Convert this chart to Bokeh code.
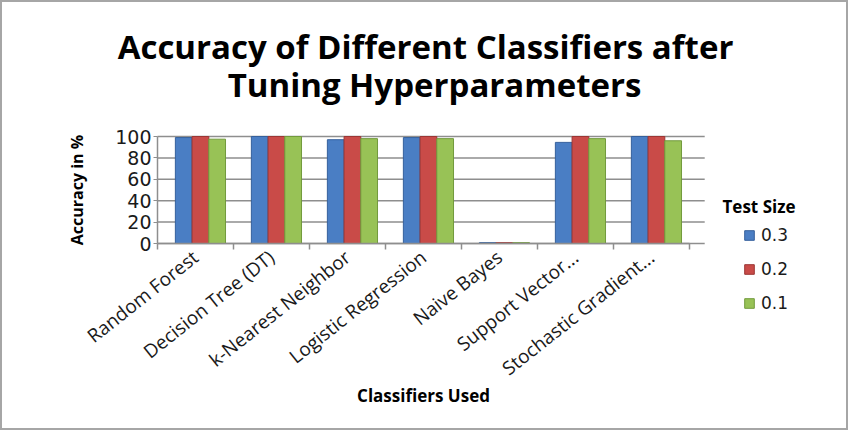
from bokeh.plotting import figure
from bokeh.layouts import column
from bokeh.models import ColumnDataSource, Range1d, FixedTicker, Legend, LegendItem, Label
from bokeh.transform import dodge
from bokeh.embed import file_html
from bokeh.resources import INLINE

# ---- data ----
title_lines = ["Accuracy of Different Classifiers after", "Tuning Hyperparameters"]
legend_title = "Test Size"
classifiers = ["Random Forest", "Decision Tree (DT)", "k-Nearest Neighbor",
               "Logistic Regression", "Naive Bayes", "Support Vector...",
               "Stochastic Gradient..."]
test_sizes = ["0.3", "0.2", "0.1"]
acc_03 = [99, 100, 97, 99, 0.8, 94.5, 100]
acc_02 = [100, 100, 100, 100, 0.8, 100, 100]
acc_01 = [97.5, 100, 98, 98, 0.8, 98, 96]
y_ticks = [0, 20, 40, 60, 80, 100]

colors = ["#4A7EC4", "#C94B48", "#98C256"]
edge_colors = ["#35609c", "#9c3634", "#729a3c"]
grid_color = "#8e8e8e"

# ---- geometry (pixels inside the bordered figure) ----
FIG_W, FIG_H = 844, 426
AX_X = 155          # pixel column of the value axis
AX_Y = 241          # pixel row of the category axis (from top)
PX_PER_CAT = 76.0
PX_PER_PCT = 1.07

n = len(classifiers)
positions = list(range(n))
cat_lo, cat_hi = -0.5, n - 0.5

x_range = Range1d(cat_lo - AX_X / PX_PER_CAT, cat_lo + (FIG_W - AX_X) / PX_PER_CAT)
y_range = Range1d(-(FIG_H - AX_Y) / PX_PER_PCT, AX_Y / PX_PER_PCT)

source = ColumnDataSource(dict(pos=positions, name=classifiers,
                               a03=acc_03, a02=acc_02, a01=acc_01))

p = figure(width=FIG_W, height=FIG_H, x_range=x_range, y_range=y_range,
           output_backend="svg", toolbar_location=None, title=None, min_border=0)
p.outline_line_color = None
p.background_fill_color = "white"
p.border_fill_color = "white"
p.xgrid.visible = False
p.ygrid.visible = False

# horizontal grid lines (back wall), drawn from the tick values
p.segment(x0=[cat_lo] * len(y_ticks), x1=[cat_hi + 0.2] * len(y_ticks),
          y0=y_ticks, y1=y_ticks, line_color=grid_color, line_width=1.5)

bar_w = 0.22
offsets = [-0.155, 0.065, 0.285]
renderers = []
for col, off, c, ec in zip(["a03", "a02", "a01"], offsets, colors, edge_colors):
    r = p.vbar(x=dodge("pos", off), top=col, bottom=0, width=bar_w,
               source=source, fill_color=c, line_color=ec, line_width=1)
    renderers.append(r)

# y axis
yax = p.yaxis[0]
yax.fixed_location = cat_lo
yax.bounds = (y_ticks[0], y_ticks[-1])
yax.ticker = FixedTicker(ticks=y_ticks)
yax.axis_line_color = grid_color
yax.axis_line_width = 1.5
yax.major_tick_line_color = grid_color
yax.major_tick_in = 0
yax.major_tick_out = 4
yax.minor_tick_line_color = None
yax.major_label_text_font = "DejaVu Sans"
yax.major_label_text_font_size = "19px"
yax.major_label_text_color = "#1a1a1a"
yax.major_label_standoff = 2
yax.axis_label = "Accuracy in %"
yax.axis_label_text_font = "Open Sans"
yax.axis_label_text_font_style = "bold"
yax.axis_label_text_font_size = "16px"
yax.axis_label_text_color = "#000000"
yax.axis_label_standoff = 24

# x axis
xax = p.xaxis[0]
xax.fixed_location = 0
xax.bounds = (cat_lo, cat_hi)
xax.ticker = FixedTicker(ticks=positions,
                         minor_ticks=[i - 0.5 for i in range(n + 1)])
xax.major_label_overrides = {i: name for i, name in zip(positions, classifiers)}
xax.major_label_orientation = 0.67
xax.major_tick_line_color = None
xax.minor_tick_line_color = grid_color
xax.minor_tick_in = 0
xax.minor_tick_out = 6
xax.minor_tick_line_width = 1.5
xax.axis_line_color = grid_color
xax.axis_line_width = 1.5
xax.major_label_text_font = "Open Sans"
xax.major_label_text_font_size = "19px"
xax.major_label_text_color = "#1a1a1a"
xax.major_label_standoff = 5
xax.axis_label = "Classifiers Used"
xax.axis_label_text_font = "Open Sans"
xax.axis_label_text_font_style = "bold"
xax.axis_label_text_font_size = "17px"
xax.axis_label_text_color = "#000000"
xax.axis_label_standoff = -10

# title lines (screen units: from frame bottom-left)
for txt, sx, base in zip(title_lines, [423, 432], [44, 82]):
    p.add_layout(Label(x=sx, y=FIG_H - base, x_units="screen", y_units="screen",
                       text=txt, text_align="center", text_baseline="alphabetic",
                       text_font="Open Sans", text_font_style="bold",
                       text_font_size="33px", text_color="#000000"))

# legend title + legend
p.add_layout(Label(x=720, y=FIG_H - 204, x_units="screen", y_units="screen",
                   text=legend_title, text_align="left", text_baseline="alphabetic",
                   text_font="Open Sans", text_font_style="bold",
                   text_font_size="17px", text_color="#000000"))
legend = Legend(items=[LegendItem(label=s, renderers=[r]) for s, r in zip(test_sizes, renderers)],
                location=(741, 115), orientation="vertical",
                glyph_width=12, glyph_height=12, label_height=12, spacing=14,
                padding=0, margin=0, border_line_color=None, background_fill_alpha=0,
                label_text_font="DejaVu Sans", label_text_font_size="17px",
                label_text_color="#1a1a1a", label_standoff=6)
p.add_layout(legend)

layout = column(p, styles={"border": "2px solid #a6a6a6"})
open("out.html", "w").write(file_html(layout, INLINE))
